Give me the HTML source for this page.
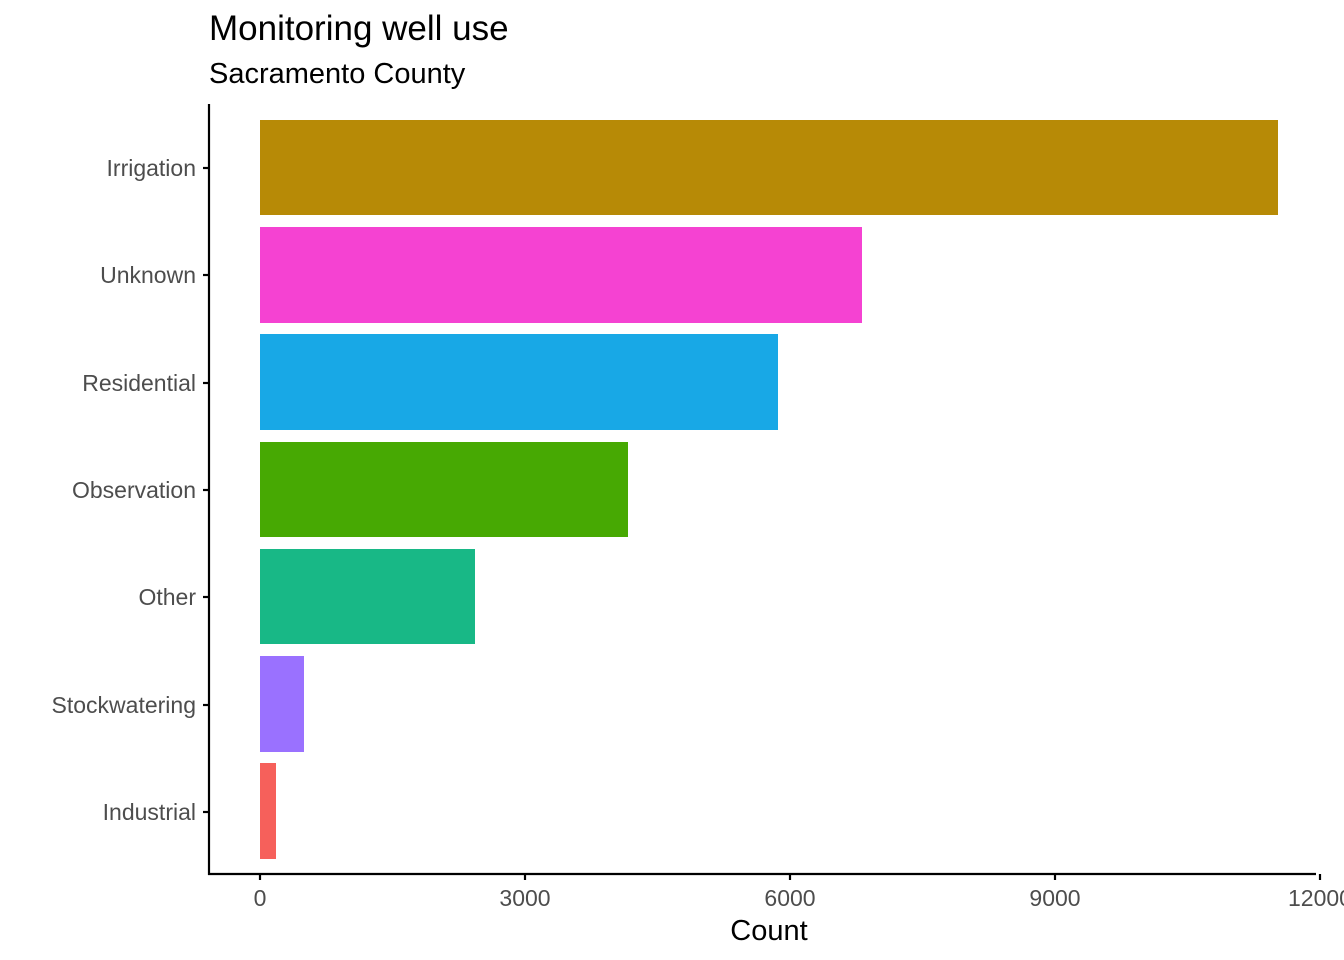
<!DOCTYPE html>
<html><head><meta charset="utf-8"><style>
html,body{margin:0;padding:0;background:#fff;}
svg{display:block;font-family:"Liberation Sans",Arial,sans-serif;}
</style></head><body>
<svg width="1344" height="960" viewBox="0 0 1344 960" xmlns="http://www.w3.org/2000/svg">
<rect width="1344" height="960" fill="#fff"/>
<text x="209" y="40" font-size="35" fill="#000">Monitoring well use</text>
<text x="209" y="83" font-size="29" fill="#000">Sacramento County</text>
<g>
<rect x="260" y="120" width="1018" height="95" fill="#B78A06"/>
<rect x="260" y="227" width="602" height="96" fill="#F542D2"/>
<rect x="260" y="334" width="518" height="96" fill="#18A8E6"/>
<rect x="260" y="442" width="368" height="95" fill="#47A903"/>
<rect x="260" y="549" width="215" height="95" fill="#18B886"/>
<rect x="260" y="656" width="44" height="96" fill="#9A71FF"/>
<rect x="260" y="763" width="16" height="96" fill="#F6605B"/>
</g>
<g stroke="#000" stroke-width="2.2">
<line x1="209" y1="104" x2="209" y2="875"/>
<line x1="208" y1="874" x2="1316" y2="874"/>
<line x1="203" y1="168" x2="209" y2="168"/>
<line x1="203" y1="275" x2="209" y2="275"/>
<line x1="203" y1="383" x2="209" y2="383"/>
<line x1="203" y1="490" x2="209" y2="490"/>
<line x1="203" y1="597" x2="209" y2="597"/>
<line x1="203" y1="705" x2="209" y2="705"/>
<line x1="203" y1="812" x2="209" y2="812"/>
<line x1="260" y1="874" x2="260" y2="880"/>
<line x1="525" y1="874" x2="525" y2="880"/>
<line x1="790" y1="874" x2="790" y2="880"/>
<line x1="1055" y1="874" x2="1055" y2="880"/>
<line x1="1320" y1="874" x2="1320" y2="880"/>
</g>
<g font-size="23" fill="#4d4d4d" text-anchor="end">
<text x="196" y="176">Irrigation</text>
<text x="196" y="283">Unknown</text>
<text x="196" y="391">Residential</text>
<text x="196" y="498">Observation</text>
<text x="196" y="605">Other</text>
<text x="196" y="713">Stockwatering</text>
<text x="196" y="820">Industrial</text>
</g>
<g font-size="23" fill="#4d4d4d" text-anchor="middle">
<text x="260" y="906">0</text>
<text x="525" y="906">3000</text>
<text x="790" y="906">6000</text>
<text x="1055" y="906">9000</text>
<text x="1320" y="906">12000</text>
</g>
<text x="769" y="940" font-size="29" fill="#000" text-anchor="middle">Count</text>
</svg>
</body></html>
